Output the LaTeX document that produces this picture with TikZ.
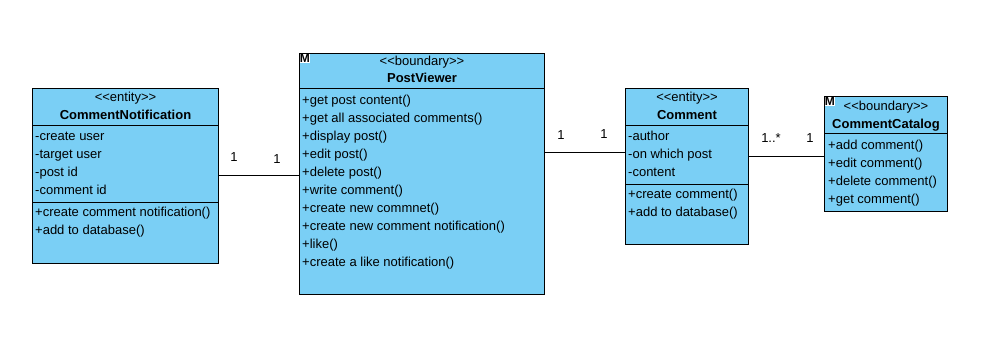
\documentclass[tikz,border=0pt]{standalone}
\usepackage{fontspec}
\setmainfont{Liberation Sans}
\definecolor{classfill}{RGB}{122,207,245}
\begin{document}
\begin{tikzpicture}[x=1pt,y=-1pt,
  classbox/.style={draw=black,line width=1pt,fill=classfill,rectangle,inner sep=0pt,anchor=north west},
  divider/.style={draw=black,line width=1pt},
  txt/.style={font=\fontsize{13}{15}\selectfont,inner sep=0pt,text height=9.4pt,text depth=2.6pt},
  stereo/.style={txt},
  cname/.style={txt,font=\fontsize{13}{15}\selectfont\bfseries},
  member/.style={txt,anchor=west},
  mult/.style={txt},
  assoc/.style={draw=black,line width=1pt},
  mbadge/.style={font=\fontsize{12}{12}\selectfont\bfseries,inner sep=0.2pt,fill=white,anchor=north west,text height=8.6pt,text depth=0pt}
]
\useasboundingbox[fill=white] (0,0) rectangle (988,354);

% CommentNotification
\node[classbox,minimum width=186pt,minimum height=175pt] (cn) at (32,88) {};
\draw[divider] (cn.west |- 0,125) -- (cn.east |- 0,125);
\draw[divider] (cn.west |- 0,202) -- (cn.east |- 0,202);
\node[stereo] (cnst) at (cn.north |- 0,98) {<{}<entity>{}>};
\node[cname] (cnnm) at (cn.north |- 0,116) {CommentNotification};
\node[member] (cna1) at (35,137) {-create user};
\node[member] (cna2) at (35,155) {-target user};
\node[member] (cna3) at (35,173) {-post id};
\node[member] (cna4) at (35,191) {-comment id};
\node[member] (cno1) at (35,213) {+create comment notification()};
\node[member] (cno2) at (35,231) {+add to database()};

% PostViewer
\node[classbox,minimum width=245pt,minimum height=241pt] (pv) at (299,53) {};
\draw[divider] (pv.west |- 0,88) -- (pv.east |- 0,88);
\node[mbadge] (pvm) at (299.5,53.5) {M};
\node[stereo] (pvst) at (pv.north |- 0,62) {<{}<boundary>{}>};
\node[cname] (pvnm) at (pv.north |- 0,79) {PostViewer};
\foreach \t [count=\i from 0] in {+get post content(),+get all associated comments(),+display post(),+edit post(),+delete post(),+write comment(),+create new commnet(),+create new comment notification(),+like(),+create a like notification()}
  \node[member] (pvo\i) at (302,101+18*\i) {\t};

% Comment
\node[classbox,minimum width=123pt,minimum height=156pt] (cm) at (625,88) {};
\draw[divider] (cm.west |- 0,125) -- (cm.east |- 0,125);
\draw[divider] (cm.west |- 0,184) -- (cm.east |- 0,184);
\node[stereo] (cmst) at (cm.north |- 0,98) {<{}<entity>{}>};
\node[cname] (cmnm) at (cm.north |- 0,116) {Comment};
\node[member] (cma1) at (628,137) {-author};
\node[member] (cma2) at (628,155) {-on which post};
\node[member] (cma3) at (628,173) {-content};
\node[member] (cmo1) at (628,195) {+create comment()};
\node[member] (cmo2) at (628,213) {+add to database()};

% CommentCatalog
\node[classbox,minimum width=123pt,minimum height=115pt] (cc) at (824,96) {};
\draw[divider] (cc.west |- 0,133) -- (cc.east |- 0,133);
\node[mbadge] (ccm) at (824.5,96.5) {M};
\node[stereo] (ccst) at (cc.north |- 0,107) {<{}<boundary>{}>};
\node[cname] (ccnm) at (cc.north |- 0,125) {CommentCatalog};
\node[member] (cco1) at (828,146) {+add comment()};
\node[member] (cco2) at (828,164) {+edit comment()};
\node[member] (cco3) at (828,182) {+delete comment()};
\node[member] (cco4) at (828,200) {+get comment()};

% associations with multiplicities
\draw[assoc] (cn.east |- 0,175) -- (pv.west |- 0,175);
\node[mult] (m1) at (234,158) {1};
\node[mult] (m2) at (277,160) {1};

\draw[assoc] (pv.east |- 0,152) -- (cm.west |- 0,152);
\node[mult] (m3) at (561,136) {1};
\node[mult] (m4) at (604,135) {1};

\draw[assoc] (cm.east |- 0,156) -- (cc.west |- 0,156);
\node[mult] (m5) at (771,139) {1..*};
\node[mult] (m6) at (810,139) {1};
\end{tikzpicture}
\end{document}
